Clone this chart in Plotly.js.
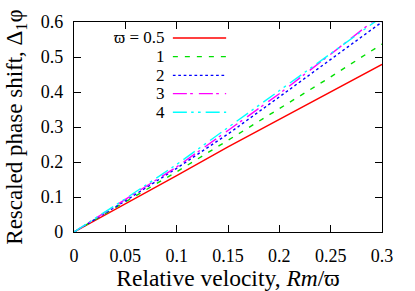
<!DOCTYPE html>
<html>
<head>
<meta charset="utf-8">
<script src="https://cdn.plot.ly/plotly-3.0.1.min.js"></script>
<style>html,body{margin:0;padding:0;background:#fff;}#chart{width:415px;height:291px;}</style>
</head>
<body>
<div id="chart"></div>
<script>
// Data
const velocity = [0, 0.05, 0.1, 0.15, 0.2, 0.25, 0.3];
const phaseW05 = [0, 0.080, 0.161, 0.243, 0.322, 0.402, 0.479];
const phaseW1  = [0, 0.085, 0.172, 0.262, 0.352, 0.443, 0.537];
const phaseW2  = [0, 0.089, 0.182, 0.280, 0.386, 0.494, 0.600];
const phaseW3  = [0, 0.092, 0.186, 0.290, 0.395, 0.508, 0.622];
const phaseW4  = [0, 0.095, 0.193, 0.298, 0.405, 0.510, 0.615];
const seriesLabels = ['\u03D6 = 0.5', '1', '2', '3', '4'];
const xTicks = [0, 0.05, 0.1, 0.15, 0.2, 0.25, 0.3];
const xTickText = ['0', '0.05', '0.1', '0.15', '0.2', '0.25', '0.3'];
const yTicks = [0, 0.1, 0.2, 0.3, 0.4, 0.5, 0.6];
const yTickText = ['0', '0.1', '0.2', '0.3', '0.4', '0.5', '0.6'];

const series = [phaseW05, phaseW1, phaseW2, phaseW3, phaseW4];
const colors = ['#ff0000', '#00e000', '#0000ff', '#ff00ff', '#00ffff'];
const dashes = ['solid', '5px,7px', '2.7px,2.7px', '14px,3.3px,2.7px,6px', '14px,4.3px,2.5px,4.3px,2.7px,5px'];
const serif = '"Liberation Serif", "Times New Roman", serif';

const traces = series.map((ys, i) => ({
  x: velocity, y: ys, type: 'scatter', mode: 'lines', name: seriesLabels[i],
  line: {color: colors[i], width: 1.4, dash: dashes[i]}, showlegend: false, hoverinfo: 'skip'
}));

// legend drawn manually: text on left, sample on right (gnuplot style)
const legY = [0.924, 0.835, 0.746, 0.659, 0.570];
const annotations = seriesLabels.map((t, i) => ({
  xref: 'paper', yref: 'paper', x: 0.3, y: legY[i], xanchor: 'right', yanchor: 'middle',
  text: t, showarrow: false, borderpad: 0, font: {family: serif, size: 17, color: '#000'}
}));
const shapes = seriesLabels.map((t, i) => ({
  type: 'line', xref: 'paper', yref: 'paper', x0: 0.321, x1: 0.494, y0: legY[i], y1: legY[i],
  line: {color: colors[i], width: 1.4, dash: dashes[i]}
}));

const axisCommon = {
  showgrid: false, zeroline: false, showline: true, linecolor: '#000', linewidth: 1.2,
  mirror: 'ticks', ticks: 'inside', ticklen: 7, tickwidth: 1, tickcolor: '#000',
  tickfont: {family: serif, size: 18, color: '#000'}, tickmode: 'array'
};

const layout = {
  width: 415, height: 291,
  margin: {l: 74, r: 33, t: 22, b: 59},
  paper_bgcolor: '#fff', plot_bgcolor: '#fff',
  font: {family: serif, color: '#000'},
  showlegend: false,
  xaxis: Object.assign({}, axisCommon, {
    range: [0, 0.3], tickvals: xTicks, ticktext: xTickText, ticklabelstandoff: 7,
    title: {text: 'Relative velocity, <i>Rm</i>/\u03D6', font: {family: serif, size: 23.5, color: '#000'}, standoff: 12}
  }),
  yaxis: Object.assign({}, axisCommon, {
    range: [0, 0.6], tickvals: yTicks, ticktext: yTickText, ticklabelstandoff: 6,
    title: {text: 'Rescaled phase shift, \u0394<sub>1</sub>\u03C6', font: {family: serif, size: 23, color: '#000'}, standoff: 11}
  }),
  annotations: annotations,
  shapes: shapes
};

Plotly.newPlot('chart', traces, layout, {staticPlot: true, displayModeBar: false});
</script>
</body>
</html>
